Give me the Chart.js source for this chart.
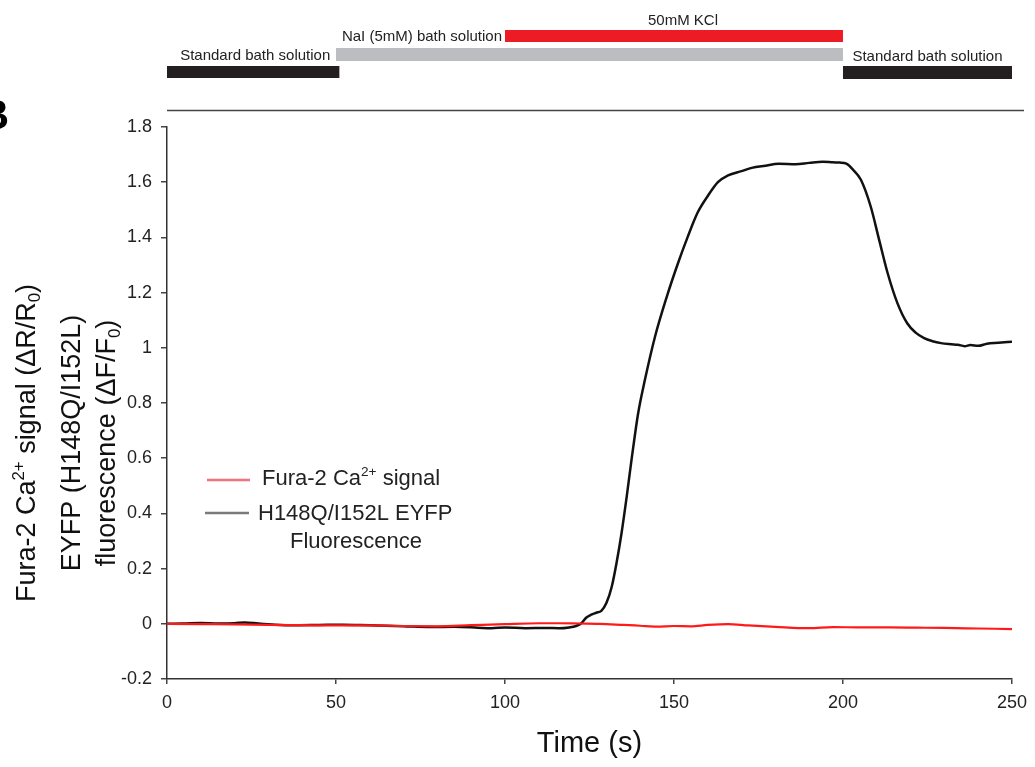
<!DOCTYPE html>
<html>
<head>
    <title>EYFP / Fura-2 trace</title>
    <script src="https://cdn.jsdelivr.net/npm/chart.js@4.4.0/dist/chart.umd.min.js"></script>
    <style>
        body { margin: 0; background: #fff; }
        #wrap { width: 1035px; height: 767px; }
    </style>
</head>
<body>
    <div id="wrap"><canvas id="myChart" width="1035" height="767"></canvas></div>
    <script>
      // EYFP (H148Q/I152L) fluorescence trace, black
      var eyfpTime = [0, 5, 10, 15, 20, 23, 27, 32, 37, 45, 52, 57, 62, 70, 78, 85, 92, 96, 100, 106,
        112, 116, 119, 121, 122.7, 124, 125.5, 127, 128.5, 130, 131.6, 133, 134.5, 136, 137.5, 139.4,
        141.4, 144.4, 148, 151, 154, 157, 160, 163, 166, 170, 173, 177, 181, 186, 190, 194, 197, 199,
        201, 203, 205.3, 208.2, 210.7, 213.2, 216.1, 219, 221.5, 224, 226.5, 229, 232, 234, 236, 237.7,
        240, 242.6, 246, 250];
      var eyfp = [0, 0.001, 0.003, 0.001, 0.002, 0.005, 0.001, -0.003, -0.005, -0.004, -0.003, -0.004,
        -0.006, -0.009, -0.012, -0.011, -0.014, -0.016, -0.013, -0.016, -0.015, -0.016, -0.013, -0.008,
        0.003, 0.022, 0.033, 0.04, 0.047, 0.075, 0.135, 0.22, 0.33, 0.46, 0.6, 0.763, 0.884, 1.041,
        1.19, 1.3, 1.4, 1.49, 1.55, 1.6, 1.625, 1.64, 1.652, 1.66, 1.667, 1.665, 1.67, 1.674, 1.672,
        1.671, 1.667, 1.645, 1.609, 1.512, 1.391, 1.271, 1.162, 1.089, 1.055, 1.035, 1.024, 1.017,
        1.013, 1.011, 1.006, 1.01, 1.007, 1.015, 1.018, 1.022];

      // Fura-2 Ca2+ signal, red
      var furaTime = [0, 10, 20, 30, 40, 50, 60, 70, 80, 90, 100, 110, 116, 122, 128, 135, 140, 145,
        150, 155, 160, 166, 172, 180, 190, 197, 205, 214, 222, 230, 240, 250];
      var fura = [0, -0.001, -0.002, -0.004, -0.005, -0.006, -0.006, -0.008, -0.009, -0.005, -0.001,
        0.002, 0.002, 0.001, 0, -0.004, -0.007, -0.01, -0.008, -0.009, -0.004, -0.001, -0.006, -0.011,
        -0.016, -0.012, -0.013, -0.013, -0.014, -0.015, -0.017, -0.019];

      // solution bars above the plot (start s, end s)
      var barNames = ['Standard bath solution', 'NaI (5mM) bath solution', '50mM KCl', 'Standard bath solution'];
      var barStart = [0, 50, 100, 200];
      var barEnd = [51, 200, 200, 250];

      var xTicks = [0, 50, 100, 150, 200, 250];
      var yMin = -0.2, yMax = 1.8, yStep = 0.2;

      var FONT = "'Liberation Sans', Arial, sans-serif";

      function pts(ts, vs) {
        return ts.map(function(t, i) { return { x: t, y: vs[i] }; });
      }

      // text with superscript / subscript pieces: [text, 0|1|-1]
      function richWidth(ctx, parts, size) {
        var w = 0;
        parts.forEach(function(p) {
          ctx.font = (p[1] ? size * 0.62 : size) + 'px ' + FONT;
          w += ctx.measureText(p[0]).width;
        });
        return w;
      }
      function drawRich(ctx, parts, x, y, size, align) {
        var w = richWidth(ctx, parts, size);
        var cx = align === 'center' ? x - w / 2 : x;
        ctx.textAlign = 'left';
        ctx.textBaseline = 'alphabetic';
        parts.forEach(function(p) {
          var s = p[1] ? size * 0.62 : size;
          ctx.font = s + 'px ' + FONT;
          var dy = p[1] === 1 ? -size * 0.42 : (p[1] === -1 ? size * 0.2 : 0);
          ctx.fillText(p[0], cx, y + dy);
          cx += ctx.measureText(p[0]).width;
        });
      }

      var extras = {
        id: 'extras',
        afterDraw: function(chart) {
          var ctx = chart.ctx;
          var xs = chart.scales.x;
          var px = function(v) { return xs.getPixelForValue(v); };
          ctx.save();

          // solution bars
          var rows = [[66, 12, '#231f20'], [48, 13, '#bcbdc0'], [30, 12, '#ed1c24'], [66, 13, '#231f20']];
          for (var i = 0; i < barNames.length; i++) {
            ctx.fillStyle = rows[i][2];
            ctx.fillRect(px(barStart[i]), rows[i][0], px(barEnd[i]) - px(barStart[i]), rows[i][1]);
          }
          ctx.fillStyle = '#222';
          ctx.font = '15px ' + FONT;
          ctx.textBaseline = 'alphabetic';
          ctx.textAlign = 'center';
          ctx.fillText(barNames[0], (px(barStart[0]) + px(barEnd[0])) / 2 + 2, 60);
          ctx.fillText(barNames[3], (px(barStart[3]) + px(barEnd[3])) / 2, 61);
          ctx.fillText(barNames[2], 683, 25);
          ctx.textAlign = 'right';
          ctx.fillText(barNames[1], px(barStart[2]) - 3, 41);

          // separator line
          ctx.strokeStyle = '#444';
          ctx.lineWidth = 1.5;
          ctx.beginPath();
          ctx.moveTo(chart.chartArea.left, 110.5);
          ctx.lineTo(1024, 110.5);
          ctx.stroke();

          // panel letter
          ctx.fillStyle = '#000';
          ctx.font = 'bold 42px ' + FONT;
          ctx.textAlign = 'right';
          ctx.fillText('B', 9, 129);

          // y title, three rotated lines
          ctx.fillStyle = '#111';
          var yLines = [
            [[['Fura-2 Ca', 0], ['2+', 1], [' signal (\u0394R/R', 0], ['0', -1], [')', 0]], 35],
            [[['EYFP (H148Q/I152L)', 0]], 80],
            [[['fluorescence (\u0394F/F', 0], ['0', -1], [')', 0]], 115]
          ];
          yLines.forEach(function(l) {
            ctx.save();
            ctx.translate(l[1], 443);
            ctx.rotate(-Math.PI / 2);
            drawRich(ctx, l[0], 0, 0, 27, 'center');
            ctx.restore();
          });

          // legend
          ctx.lineWidth = 2.5;
          ctx.strokeStyle = 'rgba(238, 90, 105, 0.85)';
          ctx.beginPath(); ctx.moveTo(207, 480); ctx.lineTo(250, 480); ctx.stroke();
          ctx.strokeStyle = '#7a7a7a';
          ctx.beginPath(); ctx.moveTo(205, 513); ctx.lineTo(249, 513); ctx.stroke();
          ctx.fillStyle = '#222';
          drawRich(ctx, [['Fura-2 Ca', 0], ['2+', 1], [' signal', 0]], 262, 485, 22, 'left');
          drawRich(ctx, [['H148Q/I152L EYFP', 0]], 258, 520, 22, 'left');
          drawRich(ctx, [['Fluorescence', 0]], 290, 548, 22, 'left');

          ctx.restore();
        }
      };

      var ctx = document.getElementById('myChart').getContext('2d');
      var myChart = new Chart(ctx, {
          type: 'line',
          data: {
              datasets: [{
                  label: 'Fura-2 Ca2+ signal',
                  data: pts(furaTime, fura),
                  borderColor: '#ff1a1a',
                  borderWidth: 2.2,
                  pointRadius: 0,
                  cubicInterpolationMode: 'monotone'
              }, {
                  label: 'H148Q/I152L EYFP Fluorescence',
                  data: pts(eyfpTime, eyfp),
                  borderColor: '#111',
                  borderWidth: 2.5,
                  pointRadius: 0,
                  cubicInterpolationMode: 'monotone'
              }]
          },
          options: {
              responsive: false,
              animation: false,
              layout: { padding: { top: 127, right: 20, left: 0, bottom: 0 } },
              plugins: { legend: { display: false }, tooltip: { enabled: false } },
              scales: {
                  x: {
                      type: 'linear',
                      min: xTicks[0],
                      max: xTicks[xTicks.length - 1],
                      afterBuildTicks: function(s) { s.ticks = xTicks.map(function(v) { return { value: v }; }); },
                      afterFit: function(s) { s.height = 88; },
                      ticks: { color: '#222', padding: 8, font: { family: FONT, size: 18 } },
                      grid: { drawOnChartArea: false, tickLength: 5, color: '#444', lineWidth: 1.5 },
                      border: { color: '#333', width: 1.5 },
                      title: {
                          display: true, text: 'Time (s)', color: '#111',
                          font: { family: FONT, size: 29 }, padding: { top: 0, bottom: 6 }
                      }
                  },
                  y: {
                      min: yMin,
                      max: yMax,
                      afterFit: function(s) { s.width = 167; },
                      ticks: {
                          stepSize: yStep, color: '#222', padding: 9,
                          font: { family: FONT, size: 18 },
                          callback: function(v) { return String(+v.toFixed(1)); }
                      },
                      grid: { drawOnChartArea: false, tickLength: 6, color: '#444', lineWidth: 1.5 },
                      border: { color: '#333', width: 1.5 }
                  }
              }
          },
          plugins: [extras]
      });
    </script>
</body>
</html>
